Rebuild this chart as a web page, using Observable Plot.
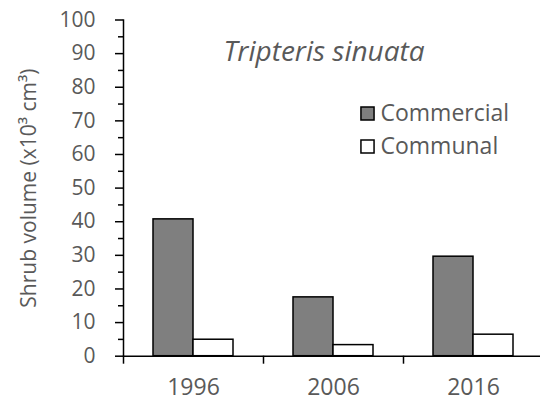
<!DOCTYPE html>
<html><head><meta charset="utf-8">
<script src="https://cdn.jsdelivr.net/npm/d3@7"></script>
<script src="https://cdn.jsdelivr.net/npm/@observablehq/plot@0.6"></script>
<style>body{margin:0;background:#fff}#chart{width:540px;height:405px}</style>
</head><body><div id="chart"></div>
<script>
const years = ["1996", "2006", "2016"];
const series = ["Commercial", "Communal"];
const commercial = [40.7, 17.5, 29.6];
const communal = [4.9, 3.3, 6.4];
const seriesFill = ["#7f7f7f", "#ffffff"];
const yTicks = [0, 10, 20, 30, 40, 50, 60, 70, 80, 90, 100];
const yMinorTicks = [5, 15, 25, 35, 45, 55, 65, 75, 85, 95];
const title = "Tripteris sinuata";
const yLabel = "Shrub volume (x10³ cm³)";

const data = years.flatMap((yr, i) => [
  {year: yr, series: series[0], value: commercial[i]},
  {year: yr, series: series[1], value: communal[i]}
]);

const W = 540, H = 405, mL = 123, mR = -3, mT = 19.5, mB = 49.3;
const band = (W - mL - mR) / years.length;
const grey = "#595959";

const legendMarks = series.flatMap((s, i) => [
  Plot.dot([s], {facet: "super", frameAnchor: "top-left", dx: 244, dy: 93.5 + i * 33,
    symbol: "square", r: 7.4, fill: seriesFill[i], stroke: "black", strokeWidth: 1.5}),
  Plot.text([s], {facet: "super", frameAnchor: "top-left", dx: 257, dy: 93.5 + i * 33,
    textAnchor: "start", lineAnchor: "middle", fontSize: 23, fill: grey})
]);

const chart = Plot.plot({
  width: W, height: H,
  marginLeft: mL, marginRight: mR, marginTop: mT, marginBottom: mB,
  style: {fontFamily: "'Open Sans', sans-serif", background: "#fff", overflow: "visible"},
  fx: {domain: years, padding: 0, label: null},
  x: {domain: series, paddingInner: 0, paddingOuter: 0.75, axis: null},
  y: {domain: [0, 100]},
  color: {domain: series, range: seriesFill},
  marks: [
    Plot.barY(data, {fx: "year", x: "series", y: "value", fill: "series", stroke: "black", strokeWidth: 1.5, inset: 0}),
    Plot.ruleY([0], {stroke: "black", strokeWidth: 1.5}),
    Plot.frame({facet: "super", anchor: "left", stroke: "black", strokeWidth: 1.5}),
    Plot.axisY({ticks: yTicks, tickSize: 8, tickPadding: 20, fontSize: 21, stroke: "black", strokeWidth: 1.5, fill: grey,
      label: yLabel, labelAnchor: "center", labelArrow: "none", labelOffset: 102, fontSize: 21}),
    Plot.axisY({ticks: yMinorTicks, tickSize: 5, text: null, label: null, stroke: "black", strokeWidth: 1.5}),
    Plot.axisFx({anchor: "bottom", tickSize: 0, tickPadding: 22, fontSize: 23, fill: grey, label: null}),
    Plot.axisFx({anchor: "bottom", tickSize: 8, text: null, dx: -band / 2, label: null, stroke: "black", strokeWidth: 1.5}),
    Plot.text([title], {facet: "super", frameAnchor: "top", dx: -9.5, dy: 21, fontSize: 28, fontStyle: "italic", fill: grey}),
    ...legendMarks
  ]
});
document.getElementById("chart").append(chart);
</script>
</body></html>
